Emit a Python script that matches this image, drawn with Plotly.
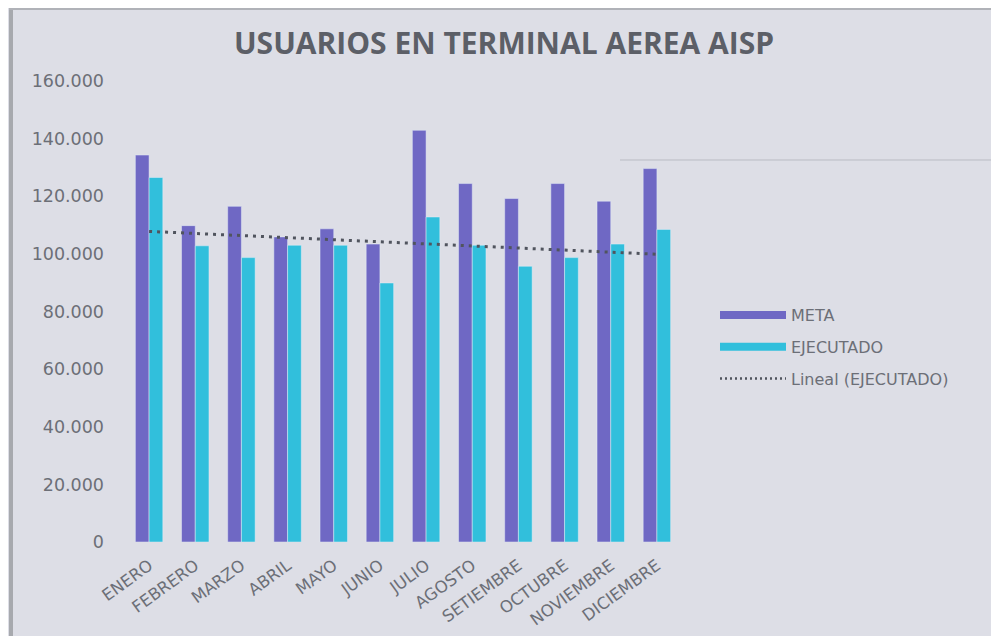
import numpy as np
import plotly.graph_objects as go

meses = ["ENERO", "FEBRERO", "MARZO", "ABRIL", "MAYO", "JUNIO", "JULIO",
         "AGOSTO", "SETIEMBRE", "OCTUBRE", "NOVIEMBRE", "DICIEMBRE"]
meta = [134300, 109800, 116500, 105900, 108700, 103400, 142900,
        124400, 119200, 124400, 118300, 129600]
ejecutado = [126500, 102800, 98700, 103000, 103000, 89900, 112800,
             103000, 95700, 98700, 103400, 108500]
y_ticks = [0, 20000, 40000, 60000, 80000, 100000, 120000, 140000, 160000]
y_tick_text = ["0", "20.000", "40.000", "60.000", "80.000", "100.000",
               "120.000", "140.000", "160.000"]

C_META = "#6f68c4"
C_EJE = "#31bfdc"
C_TXT = "#6c6f77"
C_TREND = "#50545e"
TICK_FONT = "DejaVu Sans, Verdana, sans-serif"

idx = np.arange(len(meses))
slope, intercept = np.polyfit(idx, ejecutado, 1)
trend = slope * idx + intercept

fig = go.Figure()
fig.add_trace(go.Bar(x=meses, y=meta, name="META", marker_color=C_META,
                     showlegend=False))
fig.add_trace(go.Bar(x=meses, y=ejecutado, name="EJECUTADO", marker_color=C_EJE,
                     showlegend=False))
fig.add_trace(go.Scatter(x=meses, y=trend, mode="lines", name="Lineal (EJECUTADO)",
                         line=dict(color=C_TREND, width=3, dash="3px,5px"),
                         showlegend=False))
# legend entries
fig.add_trace(go.Scatter(x=[None], y=[None], mode="lines", name="META",
                         legendgroup="a", line=dict(color=C_META, width=8)))
fig.add_trace(go.Scatter(x=[None], y=[None], mode="lines", name="EJECUTADO",
                         legendgroup="b", line=dict(color=C_EJE, width=8)))
fig.add_trace(go.Scatter(x=[None], y=[None], mode="lines", name="Lineal (EJECUTADO)",
                         legendgroup="c",
                         line=dict(color=C_TREND, width=2.5, dash="2px,3px")))

# page has an 8px body margin: page coordinates = figure coordinates + 8
OFF = 8
L, R, T, B = 126 - OFF, 680 - OFF, 81 - OFF, 542 - OFF
W, H = R - L, B - T
def px(x):  # page x -> paper x
    return (x - OFF - L) / W
def py(y):  # page y -> paper y
    return (B - (y - OFF)) / H

shapes = [
    dict(type="line", xref="paper", yref="paper", x0=px(11), x1=px(11),
         y0=py(650), y1=py(9), line=dict(color="#a7a9ae", width=4), layer="below"),
    dict(type="line", xref="paper", yref="paper", x0=px(9), x1=px(1010),
         y0=py(9), y1=py(9), line=dict(color="#b0b2b8", width=2), layer="below"),
    dict(type="line", xref="paper", yref="paper", x0=px(620), x1=px(1010),
         y0=py(160), y1=py(160), line=dict(color="#b9bbc3", width=1), layer="below"),
]

fig.update_layout(
    width=999, height=636,
    margin=dict(l=L, r=999 - R, t=T, b=636 - B),
    paper_bgcolor="#dddee6",
    plot_bgcolor="rgba(0,0,0,0)",
    barmode="group", bargap=0.405, bargroupgap=0,
    title=dict(text="<b>USUARIOS EN TERMINAL AEREA AISP</b>",
               x=(504 - OFF) / 999, xanchor="center",
               y=1 - (43 - OFF) / 636, yanchor="middle",
               font=dict(family="Open Sans, sans-serif", size=30, color="#5c5f67")),
    font=dict(family=TICK_FONT, color=C_TXT),
    xaxis=dict(tickangle=-36, showgrid=False, zeroline=False, showline=False,
               automargin=False, ticks="", ticklabelstandoff=10,
               tickfont=dict(family=TICK_FONT, size=16.5, color=C_TXT)),
    yaxis=dict(range=[0, 160000], tickvals=y_ticks, ticktext=y_tick_text,
               showgrid=False, zeroline=False, showline=False, ticks="",
               automargin=False, ticklabelstandoff=21,
               tickfont=dict(family=TICK_FONT, size=17.5, color=C_TXT)),
    legend=dict(x=px(715), y=py(298), xanchor="left", yanchor="top",
                bgcolor="rgba(0,0,0,0)", itemwidth=66,
                traceorder="grouped", tracegroupgap=8,
                font=dict(family=TICK_FONT, size=16, color=C_TXT)),
    shapes=shapes,
)

fig.write_html("out.html")
